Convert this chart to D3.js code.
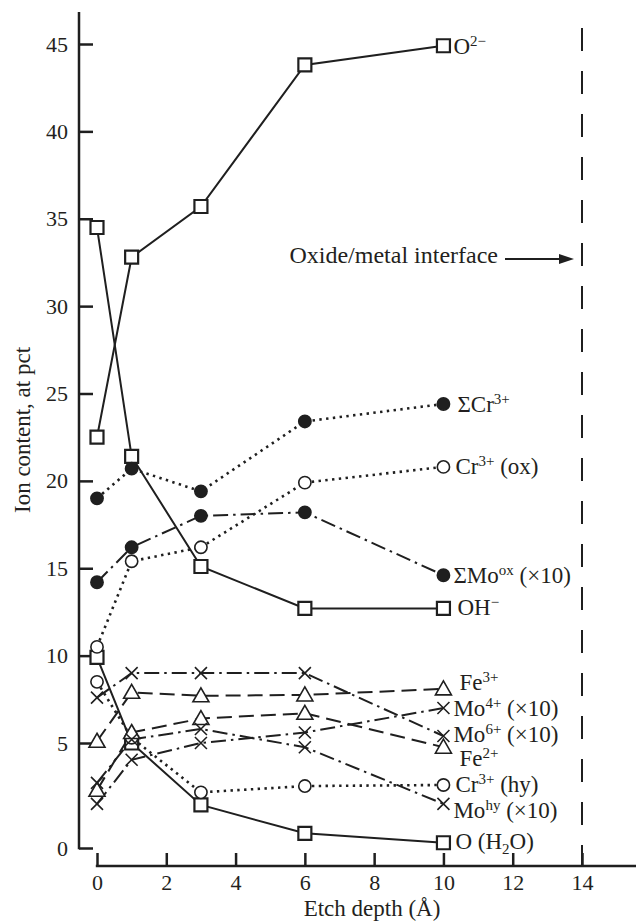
<!DOCTYPE html>
<html>
<head>
<meta charset="utf-8">
<script src="https://cdn.jsdelivr.net/npm/d3@7"></script>
<style>
  body { margin: 0; background: #fff; }
  text { font-family: "Liberation Serif", "DejaVu Serif", serif; fill: #231f20; }
</style>
</head>
<body>
<svg id="chart" width="636" height="921"></svg>
<script>
// etch depths (Å) where the spectra were taken
var depths = [0, 1, 3, 6, 10];

// ion content, at pct (Mo values are x10)
var oxide = [22.5, 32.8, 35.7, 43.8, 44.9];
var hydroxide = [34.5, 21.4, 15.1, 12.7, 12.7];
var water = [9.9, 5.0, 2.05, 0.7, 0.25];
var crTotal = [19.0, 20.7, 19.4, 23.4, 24.4];
var crOx = [10.5, 15.4, 16.2, 19.9, 20.8];
var moOx = [14.2, 16.2, 18.0, 18.2, 14.6];
var crHy = [8.5, 5.3, 2.65, 2.95, 3.0];
var fe3 = [5.1, 7.9, 7.7, 7.75, 8.1];
var fe2 = [2.75, 5.6, 6.4, 6.7, 4.8];
var mo6 = [7.6, 9.0, 9.0, 9.0, 5.4];
var mo4 = [2.1, 4.2, 5.0, 5.6, 7.0];
var moHy = [3.1, 5.2, 5.8, 4.8, 2.1];

var xTicks = [0, 2, 4, 6, 8, 10, 12, 14];
var yTicks = [0, 5, 10, 15, 20, 25, 30, 35, 40, 45];
var interfaceDepth = 14;

var series = [
    { values: oxide, marker: 'square', line: 'solid', label: [['O'], ['2\u2212', 'sup']], lx: 10, ly: 0 },
    { values: hydroxide, marker: 'square', line: 'solid', label: [['OH'], ['\u2212', 'sup']], lx: 14, ly: -1 },
    { values: water, marker: 'square', line: 'solid', label: [['O (H'], ['2', 'sub'], ['O)']], lx: 12, ly: -2 },
    { values: crTotal, marker: 'dot', line: 'dotted', label: [['\u03a3Cr'], ['3+', 'sup']], lx: 14, ly: 0 },
    { values: crOx, marker: 'circle', line: 'dotted', label: [['Cr'], ['3+', 'sup'], [' (ox)']], lx: 12, ly: -1 },
    { values: moOx, marker: 'dot', line: 'dashdot', label: [['\u03a3Mo'], ['ox', 'sup'], [' (\u00d710)']], lx: 10, ly: 0 },
    { values: crHy, marker: 'circle', line: 'dotted', label: [['Cr'], ['3+', 'sup'], [' (hy)']], lx: 12, ly: -1 },
    { values: fe3, marker: 'tri', line: 'dashed', label: [['Fe'], ['3+', 'sup']], lx: 16, ly: -7 },
    { values: fe2, marker: 'tri', line: 'dashed', label: [['Fe'], ['2+', 'sup']], lx: 16, ly: 11 },
    { values: mo6, marker: 'cross', line: 'dashdot', label: [['Mo'], ['6+', 'sup'], [' (\u00d710)']], lx: 10, ly: -2 },
    { values: mo4, marker: 'cross', line: 'dashdot', label: [['Mo'], ['4+', 'sup'], [' (\u00d710)']], lx: 10, ly: 0 },
    { values: moHy, marker: 'cross', line: 'dashdot', label: [['Mo'], ['hy', 'sup'], [' (\u00d710)']], lx: 10, ly: 6 }
];

var ink = '#1f1f1f';
var dashes = { solid: null, dotted: '2.4,4.4', dashed: '15,7', dashdot: '15,5,2.5,5' };

var svg = d3.select('#chart');
var x = d3.scaleLinear().domain([0, 14]).range([97, 582]);
// the printed axis has a wider first interval (0-5) than the rest
var y = d3.scaleLinear().domain([0, 5, 45]).range([848, 743, 44]);

// y axis
var yAxis = svg.append('g')
    .attr('transform', 'translate(79,0)')
    .call(d3.axisLeft(y).tickValues(yTicks).tickSizeInner(-14).tickSizeOuter(0).tickPadding(11));
yAxis.select('.domain').remove();
yAxis.selectAll('.tick line').attr('stroke', ink).attr('stroke-width', 2.5);
yAxis.selectAll('.tick text').attr('font-size', 22).attr('font-family', null).attr('fill', null);
svg.append('line')
    .attr('x1', 79).attr('x2', 79)
    .attr('y1', 12).attr('y2', y(0) + 1.2)
    .attr('stroke', ink).attr('stroke-width', 2.5);

// x axis
var xAxis = svg.append('g')
    .attr('transform', 'translate(0,866)')
    .call(d3.axisBottom(x).tickValues(xTicks).tickSizeInner(-13).tickSizeOuter(0).tickPadding(8));
xAxis.select('.domain').remove();
xAxis.selectAll('.tick line').attr('stroke', ink).attr('stroke-width', 2.5);
xAxis.selectAll('.tick text').attr('font-size', 22).attr('font-family', null).attr('fill', null);
svg.append('line')
    .attr('x1', x(0) - 1.2).attr('x2', 636)
    .attr('y1', 866).attr('y2', 866)
    .attr('stroke', ink).attr('stroke-width', 2.5);

// axis titles
svg.append('text')
    .attr('x', 372).attr('y', 916)
    .attr('text-anchor', 'middle')
    .attr('font-size', 23)
    .text('Etch depth (\u00c5)');
svg.append('text')
    .attr('transform', 'translate(30,430) rotate(-90)')
    .attr('text-anchor', 'middle')
    .attr('font-size', 23)
    .text('Ion content,  at pct');

// oxide/metal interface
svg.append('line')
    .attr('x1', x(interfaceDepth)).attr('x2', x(interfaceDepth))
    .attr('y1', 28).attr('y2', 866)
    .attr('stroke', ink).attr('stroke-width', 2)
    .attr('stroke-dasharray', '23,20');
svg.append('text')
    .attr('x', x(interfaceDepth) - 84).attr('y', 263)
    .attr('text-anchor', 'end')
    .attr('font-size', 24)
    .text('Oxide/metal interface');
svg.append('line')
    .attr('x1', x(interfaceDepth) - 77).attr('x2', x(interfaceDepth) - 20)
    .attr('y1', 259).attr('y2', 259)
    .attr('stroke', ink).attr('stroke-width', 2);
svg.append('path')
    .attr('d', 'M' + (x(interfaceDepth) - 8) + ',259l-15,-5v10z')
    .attr('fill', ink);

// lines
var line = d3.line()
    .x(function(d, i) { return x(depths[i]); })
    .y(function(d) { return y(d); });

svg.append('g').selectAll('path')
    .data(series)
    .enter()
    .append('path')
    .attr('d', function(s) { return line(s.values); })
    .attr('fill', 'none')
    .attr('stroke', ink)
    .attr('stroke-width', function(s) { return s.line == 'dotted' ? 2.6 : 2; })
    .attr('stroke-dasharray', function(s) { return dashes[s.line]; });

// markers
function markerPath(type) {
    if (type == 'square') return 'M-6.5,-6.5h13v13h-13z';
    if (type == 'tri') return 'M0,-8L8,6L-8,6Z';
    if (type == 'cross') return 'M-6,-6L6,6M-6,6L6,-6';
    return d3.symbol(d3.symbolCircle, 118)();
}

series.forEach(function(s) {
    svg.append('g').selectAll('path')
        .data(s.values)
        .enter()
        .append('path')
        .attr('transform', function(d, i) { return 'translate(' + x(depths[i]) + ',' + y(d) + ')'; })
        .attr('d', markerPath(s.marker))
        .attr('fill', s.marker == 'dot' ? ink : (s.marker == 'cross' ? 'none' : '#fff'))
        .attr('stroke', ink)
        .attr('stroke-width', s.marker == 'square' ? 2.2 : 1.6);
});

// series labels at the right end
series.forEach(function(s) {
    var last = s.values[s.values.length - 1];
    var t = svg.append('text')
        .attr('x', x(depths[depths.length - 1]) + s.lx)
        .attr('y', y(last) + s.ly + 8)
        .attr('font-size', 23);
    var shift = 0;
    s.label.forEach(function(p) {
        var want = p[1] == 'sup' ? -8 : (p[1] == 'sub' ? 5 : 0);
        t.append('tspan')
            .attr('dy', want - shift)
            .attr('font-size', p[1] ? 15 : 23)
            .text(p[0]);
        shift = want;
    });
});
</script>
</body>
</html>
